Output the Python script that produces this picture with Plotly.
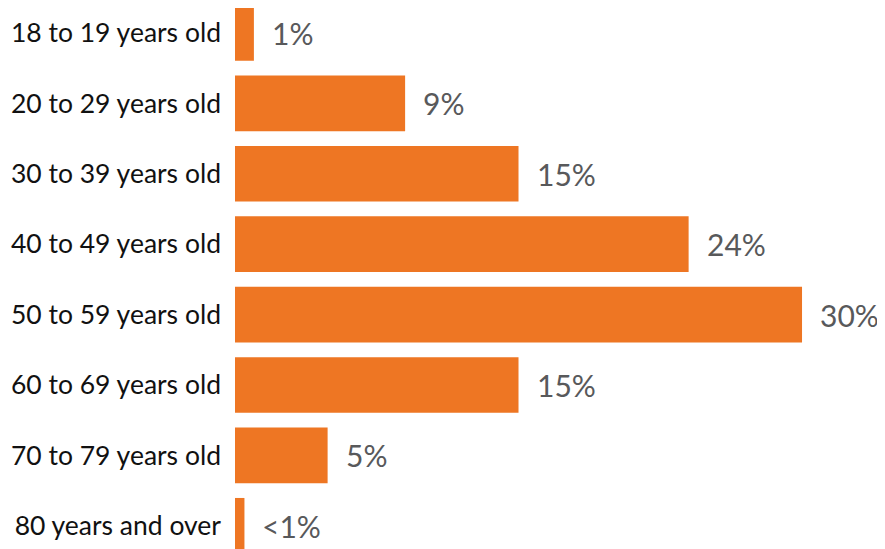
import plotly.graph_objects as go

categories = ["18 to 19 years old", "20 to 29 years old", "30 to 39 years old",
              "40 to 49 years old", "50 to 59 years old", "60 to 69 years old",
              "70 to 79 years old", "80 years and over"]
values = [1, 9, 15, 24, 30, 15, 4.9, 0.5]
labels = ["1%", "9%", "15%", "24%", "30%", "15%", "5%", "<1%"]

fig = go.Figure(go.Bar(
    x=values, y=categories, orientation="h",
    marker=dict(color="#EE7623", line=dict(width=0)),
    hoverinfo="skip",
))
for v, c, t in zip(values, categories, labels):
    fig.add_annotation(x=v, y=c, text=t, showarrow=False, xanchor="left",
                       yanchor="middle", xshift=16,
                       font=dict(family="Lato", size=30, color="#58595B"))

fig.update_layout(
    width=877, height=541,
    margin=dict(l=227, r=0, t=0, b=0),
    paper_bgcolor="white", plot_bgcolor="white",
    bargap=0.21, showlegend=False,
    font=dict(family="Lato"),
)
fig.update_xaxes(range=[0, 34.39], visible=False)
fig.update_yaxes(categoryorder="array", categoryarray=categories,
                 range=[7.33, -0.355], showgrid=False, zeroline=False,
                 showline=False, ticks="", ticklabelstandoff=13,
                 tickfont=dict(family="Lato", size=26.5, color="#111111"))
fig.write_html("out.html")
